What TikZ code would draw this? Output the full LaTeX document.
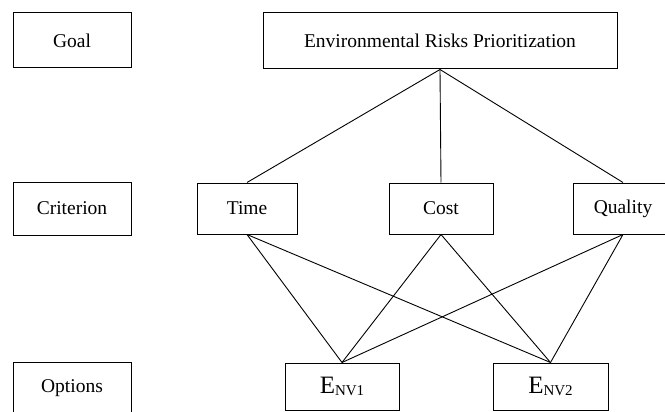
\documentclass[tikz,border=0pt]{standalone}
\usepackage{fontspec}
\setmainfont{Liberation Serif}
\begin{document}
\begin{tikzpicture}[x=1pt,y=-1pt,
  box/.style={draw, line width=1pt, inner sep=0pt, font=\fontsize{19.5}{23}\selectfont},
  link/.style={line width=0.9pt},
  optlabel/.style={font=\fontsize{25}{28}\selectfont}]
  \useasboundingbox (0,0) rectangle (665,412);
  \clip (0,0) rectangle (665,412);
  \fill[white] (0,0) rectangle (665,412);

  % level captions
  \node[box, minimum width=118pt, minimum height=55pt] (goal) at (72,40.5) {Goal};
  \node[box, minimum width=118pt, minimum height=53pt] (crit) at (72,208.5) {Criterion};
  \node[box, minimum width=118pt, minimum height=53pt] (opts) at (72,388.5) {Options};

  % goal
  \node[box, minimum width=354pt, minimum height=56pt] (erp) at (440,41) {Environmental Risks Prioritization};

  % criteria
  \node[box, minimum width=100pt, minimum height=51pt] (time) at (247,208.5) {Time};
  \node[box, minimum width=104pt, minimum height=51pt] (cost) at (441,208.5) {Cost};
  \node[box, minimum width=100pt, minimum height=51pt] (qual) at (623,208.5) {Quality};

  % options
  \node[box, optlabel, minimum width=114pt, minimum height=47pt] (env1) at (342,386.5)
    {E\raisebox{-2.5pt}{\fontsize{15}{16}\selectfont NV1}};
  \node[box, optlabel, minimum width=115pt, minimum height=47pt] (env2) at (550.5,386.5)
    {E\raisebox{-2.5pt}{\fontsize{15}{16}\selectfont NV2}};

  % hierarchy links
  \foreach \c in {time,cost,qual}
    \draw[link] (erp.south) -- (\c.north);
  \foreach \c in {time,cost,qual}
    \foreach \o in {env1,env2}
      \draw[link] (\c.south) -- (\o.north);
\end{tikzpicture}
\end{document}
